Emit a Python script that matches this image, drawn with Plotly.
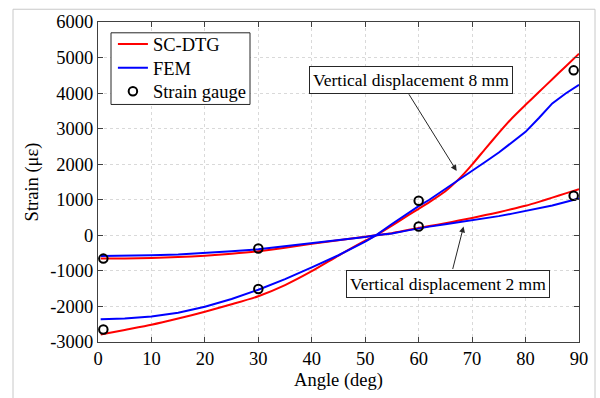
import plotly.graph_objects as go

# ---- data ----
angle = [0.5, 5, 10, 15, 20, 25, 30, 35, 40, 45, 50, 52, 55, 58, 60, 62, 65, 67.5,
         70, 72.5, 75, 77.5, 80, 82.5, 85, 87.5, 90]
sc_dtg_8mm = [-2790, -2660, -2515, -2340, -2150, -1940, -1713, -1400, -1010, -570, -150, 0,
              275, 560, 745, 935, 1240, 1580, 1990, 2440, 2880, 3300, 3670, 4030, 4390, 4750, 5110]
fem_8mm = [-2360, -2340, -2280, -2180, -2010, -1790, -1530, -1230, -900, -560, -180, 0,
           320, 630, 820, 1000, 1300, 1545, 1810, 2070, 2330, 2620, 2910, 3300, 3710, 3990, 4235]
sc_dtg_2mm = [-655, -650, -635, -610, -575, -520, -450, -350, -240, -140, -40, 0,
              60, 150, 210, 260, 340, 415, 490, 570, 650, 740, 830, 940, 1060, 1180, 1300]
fem_2mm = [-580, -575, -560, -540, -500, -450, -390, -310, -225, -140, -50, 0,
           50, 140, 200, 245, 310, 365, 420, 480, 540, 610, 680, 760, 840, 940, 1040]
gauge_angle = [1, 30, 60, 89, 1, 30, 60, 89]
gauge_strain = [-2650, -1510, 975, 4640, -655, -370, 250, 1115]

x_ticks = [0, 10, 20, 30, 40, 50, 60, 70, 80, 90]
x_ticktext = ["0", "10", "20", "30", "40", "50", "60", "70", "80", "90"]
y_ticks = [-3000, -2000, -1000, 0, 1000, 2000, 3000, 4000, 5000, 6000]
y_ticktext = ["-3000", "-2000", "-1000", "0", "1000", "2000", "3000", "4000", "5000", "6000"]

FONT = "Liberation Serif, Times New Roman, Times, serif"
RED = "#ff0000"
BLUE = "#0000ff"

fig = go.Figure()
fig.add_trace(go.Scatter(x=angle, y=sc_dtg_8mm, mode="lines", name="SC-DTG",
                         line=dict(color=RED, width=2, shape="spline", smoothing=0.6),
                         legend="legend"))
fig.add_trace(go.Scatter(x=angle, y=sc_dtg_2mm, mode="lines", name="SC-DTG",
                         line=dict(color=RED, width=2, shape="spline", smoothing=0.6),
                         showlegend=False))
fig.add_trace(go.Scatter(x=angle, y=fem_8mm, mode="lines", name="FEM",
                         line=dict(color=BLUE, width=2), legend="legend2"))
fig.add_trace(go.Scatter(x=angle, y=fem_2mm, mode="lines", name="FEM",
                         line=dict(color=BLUE, width=2), showlegend=False))
fig.add_trace(go.Scatter(x=gauge_angle, y=gauge_strain, mode="markers", name="Strain gauge",
                         marker=dict(symbol="circle-open", size=8.5, color="black",
                                     line=dict(width=2, color="black")),
                         legend="legend3"))

axis_common = dict(
    showline=True, linecolor="#404040", linewidth=1, mirror="ticks",
    ticks="inside", ticklen=5, tickcolor="#404040",
    showgrid=True, gridcolor="#d9d9d9", griddash="dot", gridwidth=1,
    zeroline=False, tickfont=dict(family=FONT, size=18.5, color="black"),
)

leg_common = dict(x=0.031, xanchor="left", yanchor="middle",
                  bgcolor="rgba(0,0,0,0)", borderwidth=0,
                  font=dict(family=FONT, size=18.5, color="black"), itemwidth=30)

fig.update_layout(
    width=600, height=398,
    margin=dict(l=98, r=21, t=20, b=52),
    paper_bgcolor="white", plot_bgcolor="white",
    font=dict(family=FONT, size=18.5, color="black"),
    xaxis=dict(range=[0, 90], tickvals=x_ticks, ticktext=x_ticktext,
               title=dict(text="Angle (deg)", font=dict(family=FONT, size=18.5), standoff=4),
               **axis_common),
    yaxis=dict(range=[-3000, 6000], tickvals=y_ticks, ticktext=y_ticktext,
               title=dict(text="Strain (με)", font=dict(family=FONT, size=18.5), standoff=6),
               **axis_common),
    legend=dict(y=(346 - 43) / 326, **leg_common),
    legend2=dict(y=(346 - 67) / 326, **leg_common),
    legend3=dict(y=(346 - 91) / 326, **leg_common),
    showlegend=True,
)

# legend frame
fig.add_shape(type="rect", xref="paper", yref="paper",
              x0=(111 - 98) / 481, x1=(250 - 98) / 481,
              y0=(346 - 104) / 326, y1=(346 - 31) / 326,
              line=dict(color="#262626", width=1), fillcolor="white", layer="above")

# annotation boxes
fig.add_annotation(x=58.5, y=4370, xref="x", yref="y", text="Vertical displacement 8 mm",
                   showarrow=False, font=dict(family=FONT, size=17.5, color="black"),
                   bordercolor="#262626", borderwidth=1, borderpad=3, bgcolor="white")
fig.add_annotation(x=65.4, y=-1370, xref="x", yref="y", text="Vertical displacement 2 mm",
                   showarrow=False, font=dict(family=FONT, size=17.5, color="black"),
                   bordercolor="#262626", borderwidth=1, borderpad=3, bgcolor="white")
# arrows
fig.add_annotation(x=67.1, y=1812, ax=58.0, ay=4010, xref="x", yref="y", axref="x", ayref="y",
                   text="", showarrow=True, arrowhead=2, arrowsize=1.2, arrowwidth=1,
                   arrowcolor="#262626")
fig.add_annotation(x=68.4, y=249, ax=66.3, ay=-990, xref="x", yref="y", axref="x", ayref="y",
                   text="", showarrow=True, arrowhead=2, arrowsize=1.2, arrowwidth=1,
                   arrowcolor="#262626")

# outer frame
fig.add_shape(type="rect", xref="paper", yref="paper",
              x0=(13 - 98) / 481, x1=(595 - 98) / 481, y0=-0.3, y1=(346 - 7) / 326,
              line=dict(color="#c8c8c8", width=1), fillcolor="rgba(0,0,0,0)", layer="below")

fig.write_html("out.html")
